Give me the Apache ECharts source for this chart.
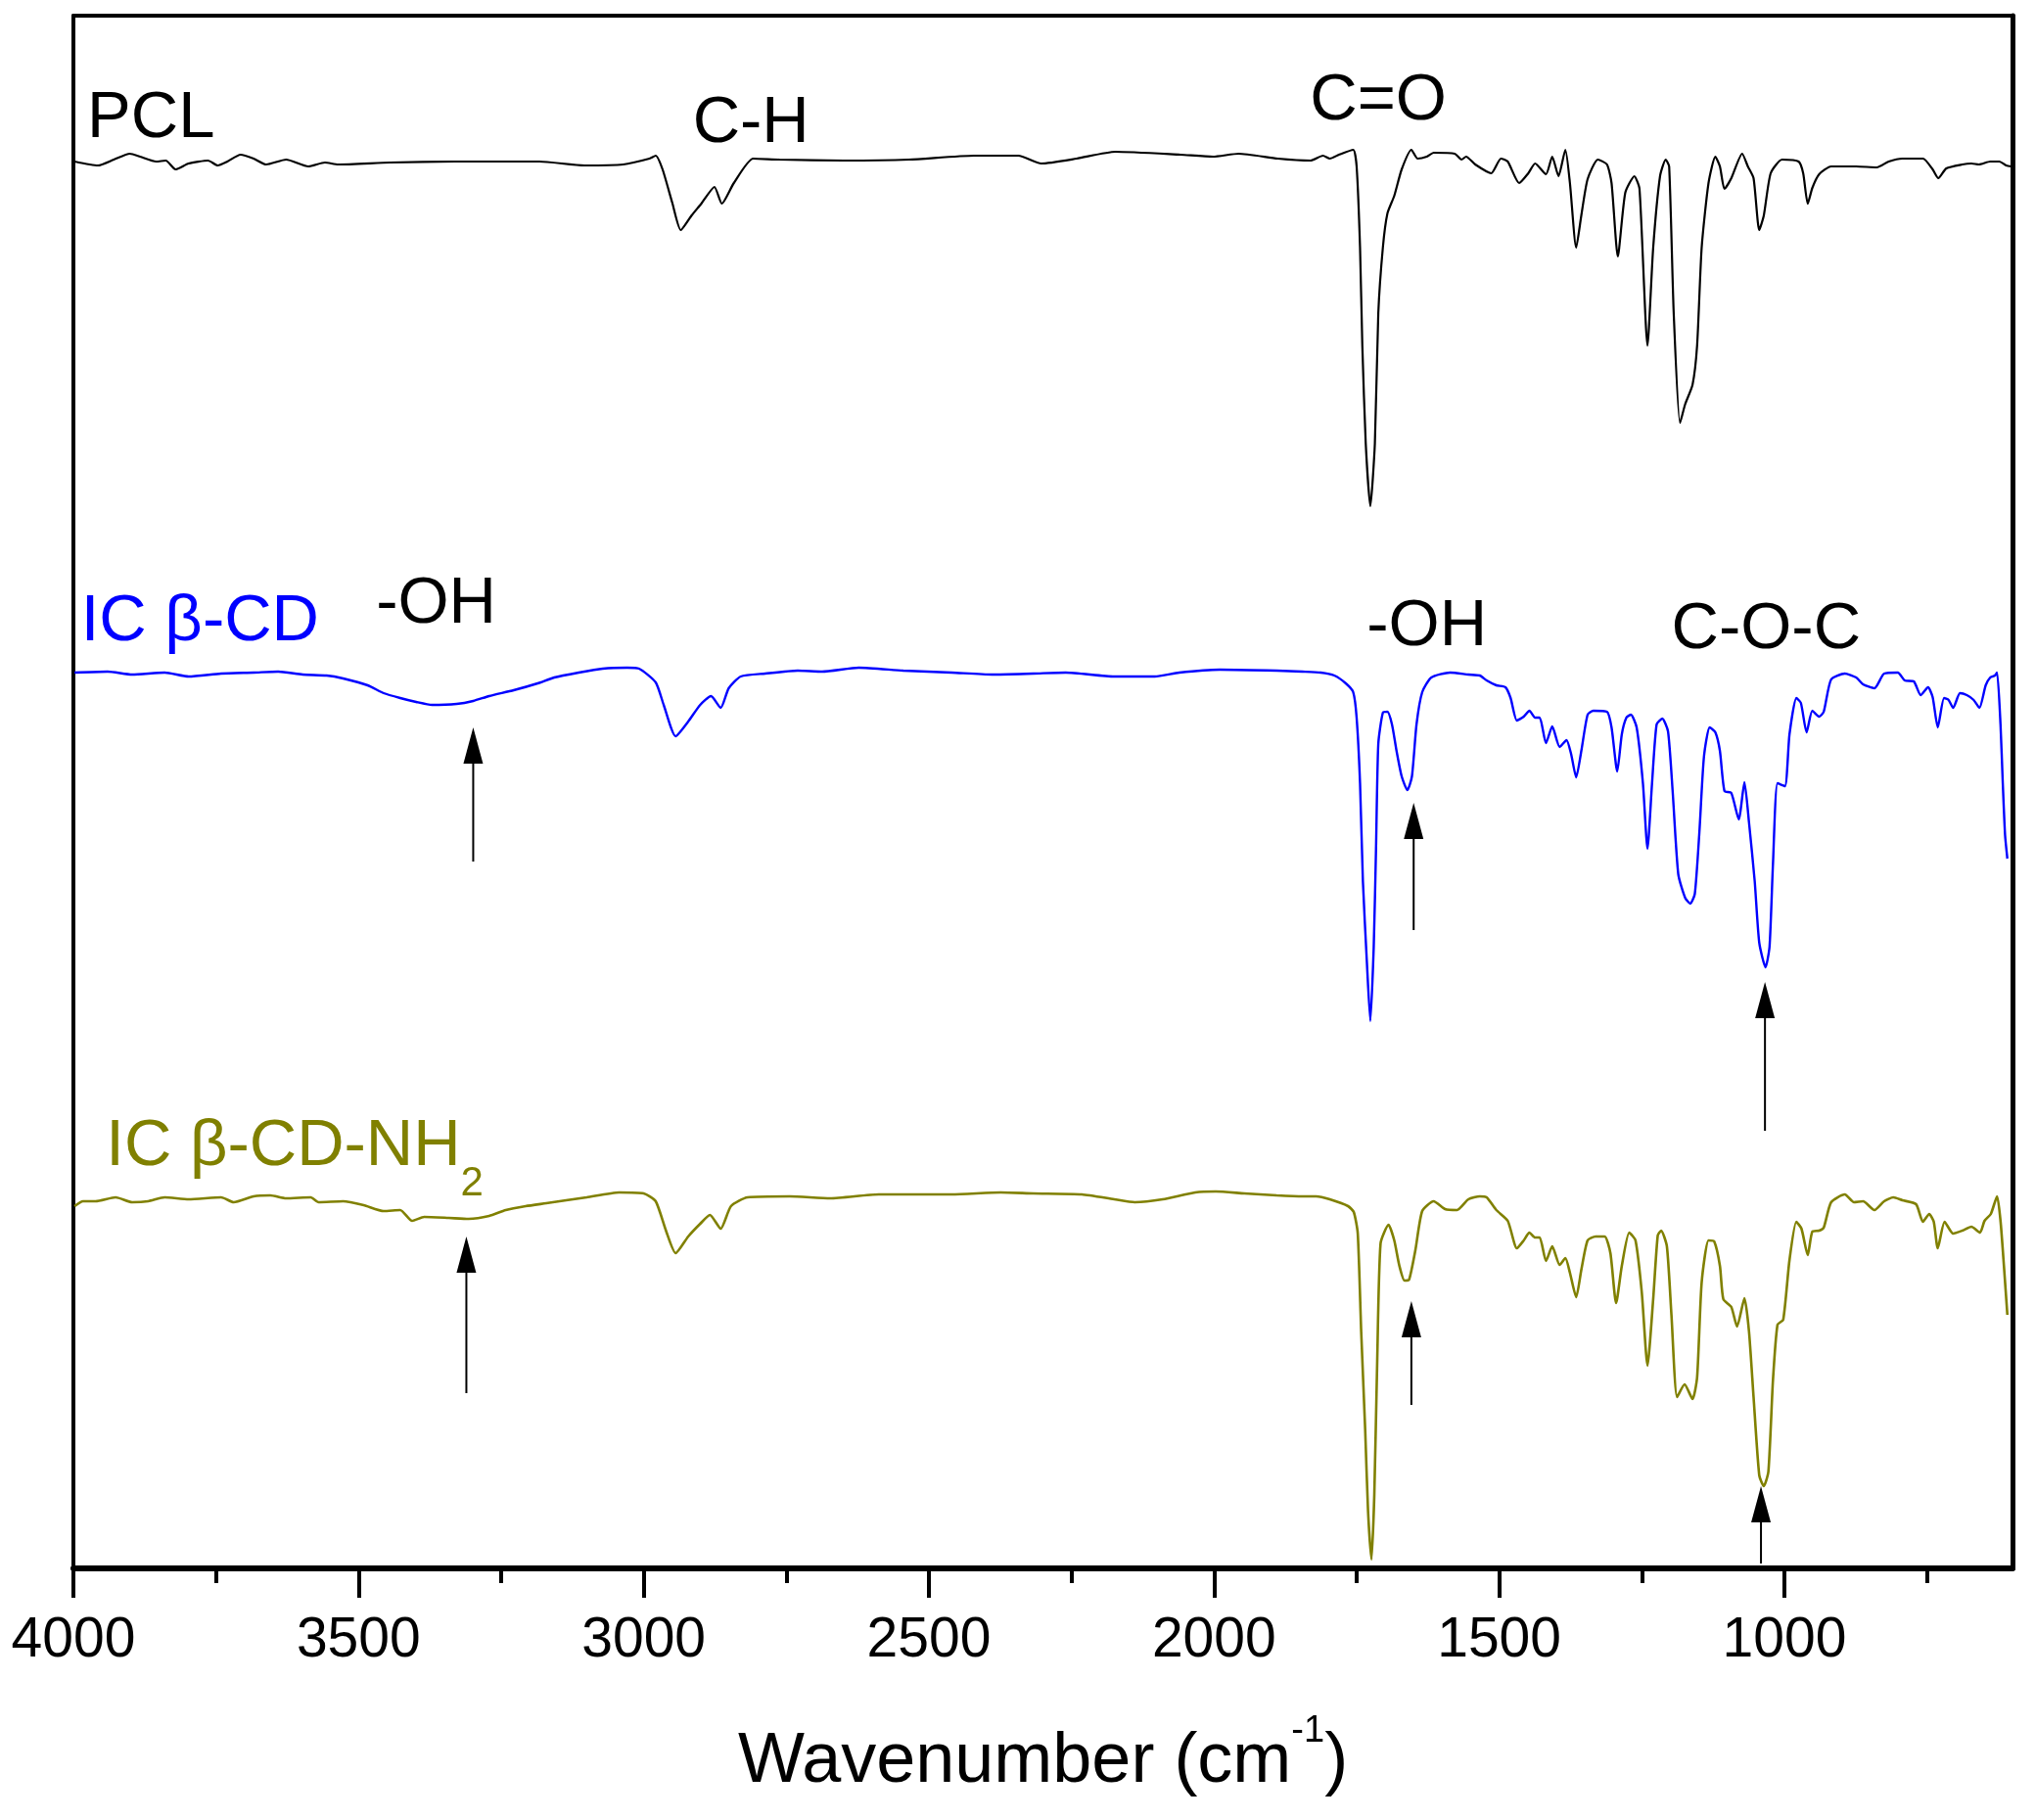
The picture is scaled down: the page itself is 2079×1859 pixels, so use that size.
<!DOCTYPE html>
<html>
<head>
<meta charset="utf-8">
<script src="https://cdn.jsdelivr.net/npm/echarts@6/dist/echarts.min.js"></script>
<style>
html,body{margin:0;padding:0;background:#fff;}
#chart{width:2079px;height:1859px;}
</style>
</head>
<body>
<div id="chart"></div>
<script>
// Wavenumber (cm-1) vs. transmittance (arbitrary units, curves offset)
const pclSpectrum = [[3998,1437],[3957,1433],[3929,1439],[3901,1445],[3883,1442],[3855,1437],[3838,1438],[3821,1429],[3798,1435],[3764,1438],[3747,1433],[3730,1437],[3707,1444],[3684,1440],[3662,1434],[3627,1439],[3588,1432],[3559,1436],[3536,1434],[3445,1436],[3331,1437],[3183,1437],[3104,1433],[3036,1434],[2990,1440],[2979,1443],[2967,1429],[2950,1395],[2935,1367],[2916,1382],[2899,1394],[2876,1411],[2863,1394],[2842,1415],[2808,1440],[2762,1439],[2649,1438],[2535,1439],[2421,1443],[2375,1443],[2343,1443],[2303,1435],[2241,1440],[2173,1447],[2059,1444],[2002,1442],[1957,1445],[1888,1440],[1831,1438],[1809,1443],[1797,1440],[1781,1444],[1756,1449],[1750,1432],[1744,1349],[1740,1249],[1734,1149],[1726,1085],[1718,1149],[1712,1282],[1704,1349],[1696,1384],[1684,1402],[1671,1429],[1654,1449],[1643,1440],[1627,1442],[1615,1446],[1578,1445],[1566,1439],[1558,1442],[1542,1434],[1514,1425],[1497,1440],[1485,1437],[1465,1415],[1449,1425],[1437,1435],[1418,1424],[1407,1442],[1396,1422],[1384,1449],[1376,1415],[1365,1349],[1356,1382],[1345,1419],[1327,1439],[1311,1434],[1303,1415],[1292,1340],[1279,1405],[1263,1422],[1254,1409],[1240,1249],[1230,1349],[1218,1422],[1208,1439],[1202,1432],[1194,1282],[1183,1170],[1174,1189],[1161,1209],[1153,1249],[1145,1349],[1133,1415],[1121,1442],[1113,1432],[1105,1409],[1093,1420],[1074,1445],[1064,1432],[1054,1420],[1044,1367],[1036,1382],[1024,1425],[1004,1439],[975,1437],[967,1425],[959,1394],[951,1410],[939,1424],[918,1432],[874,1432],[838,1431],[817,1437],[793,1440],[757,1440],[740,1429],[730,1420],[716,1430],[688,1434],[672,1435],[659,1434],[639,1437],[623,1437],[611,1433],[602,1432]];

const icBetaCdSpectrum = [[3998,915],[3940,916],[3897,913],[3840,915],[3798,911],[3741,914],[3684,915],[3641,916],[3598,913],[3556,912],[3527,909],[3484,902],[3456,894],[3427,889],[3399,885],[3371,882],[3328,883],[3299,886],[3271,891],[3228,897],[3186,904],[3157,910],[3114,915],[3072,919],[3029,920],[3008,919],[2979,905],[2965,882],[2944,850],[2922,865],[2901,882],[2882,891],[2865,879],[2851,899],[2830,911],[2787,914],[2730,917],[2687,916],[2623,920],[2545,917],[2460,915],[2389,913],[2317,914],[2260,915],[2175,911],[2104,911],[2061,915],[1990,918],[1890,917],[1845,916],[1813,915],[1789,912],[1769,904],[1756,895],[1750,869],[1744,802],[1739,702],[1732,619],[1726,559],[1720,635],[1716,735],[1712,842],[1704,874],[1696,875],[1688,862],[1680,835],[1671,809],[1661,795],[1653,809],[1645,862],[1635,895],[1619,910],[1586,915],[1554,913],[1534,912],[1522,907],[1505,902],[1489,900],[1480,889],[1469,866],[1457,870],[1447,876],[1437,869],[1429,869],[1418,843],[1407,860],[1394,839],[1382,846],[1374,832],[1365,808],[1356,835],[1345,872],[1335,876],[1311,875],[1303,859],[1293,814],[1285,852],[1277,869],[1269,872],[1259,859],[1248,802],[1240,735],[1232,802],[1224,862],[1214,868],[1204,855],[1196,795],[1186,709],[1174,685],[1165,679],[1157,689],[1149,752],[1141,829],[1131,859],[1121,854],[1113,835],[1105,794],[1093,792],[1080,765],[1070,803],[1062,762],[1052,702],[1044,639],[1033,614],[1026,635],[1020,719],[1012,802],[999,799],[991,852],[979,889],[971,884],[961,854],[951,876],[939,870],[931,875],[918,908],[894,914],[874,910],[862,903],[842,899],[825,914],[801,915],[789,907],[773,906],[761,892],[748,900],[740,890],[731,859],[720,889],[712,887],[704,879],[692,894],[680,892],[668,887],[658,879],[647,902],[639,910],[631,912],[627,915],[621,862],[617,802],[613,749],[609,725]];

const icBetaCdNh2Spectrum = [[3998,370],[3983,375],[3961,375],[3926,379],[3897,374],[3869,375],[3840,379],[3798,377],[3741,379],[3719,374],[3684,380],[3655,381],[3627,378],[3584,379],[3570,374],[3527,375],[3491,371],[3456,365],[3427,366],[3406,355],[3385,359],[3342,358],[3307,357],[3271,360],[3242,366],[3207,370],[3171,373],[3136,376],[3100,379],[3043,384],[3000,383],[2979,375],[2961,345],[2944,322],[2922,339],[2901,352],[2884,361],[2865,347],[2847,370],[2818,379],[2744,380],[2673,378],[2588,382],[2460,382],[2374,384],[2317,383],[2232,382],[2175,377],[2139,374],[2090,377],[2033,384],[1997,385],[1947,383],[1890,381],[1845,380],[1821,380],[1797,377],[1765,370],[1755,364],[1748,342],[1742,242],[1735,142],[1730,59],[1724,9],[1719,75],[1714,209],[1708,332],[1694,351],[1684,335],[1675,309],[1666,294],[1658,295],[1647,325],[1635,365],[1615,375],[1595,367],[1574,366],[1554,377],[1534,380],[1522,379],[1505,366],[1485,355],[1469,327],[1457,335],[1447,343],[1437,338],[1429,338],[1418,314],[1407,329],[1394,310],[1384,317],[1376,302],[1365,277],[1356,305],[1345,335],[1331,339],[1315,339],[1305,322],[1295,271],[1285,309],[1272,343],[1261,335],[1250,282],[1240,207],[1230,275],[1222,340],[1216,345],[1206,329],[1198,259],[1188,175],[1175,188],[1161,173],[1153,195],[1145,292],[1133,335],[1123,334],[1113,309],[1107,275],[1093,267],[1083,247],[1070,276],[1062,242],[1054,175],[1044,95],[1036,84],[1028,99],[1020,192],[1012,249],[1002,254],[991,315],[979,354],[970,347],[959,320],[951,344],[939,345],[931,348],[918,374],[894,382],[878,374],[862,375],[842,366],[825,375],[809,379],[793,376],[769,372],[757,354],[746,362],[738,354],[731,327],[719,354],[704,342],[688,345],[672,349],[657,343],[649,355],[638,362],[627,380],[621,355],[615,309],[609,259]];

const majorTicks = [4000, 3500, 3000, 2500, 2000, 1500, 1000];
const minorTicks = [3750, 3250, 2750, 2250, 1750, 1250, 750];

// annotations: text, wavenumber (centre), y value
const annoText = ['PCL', 'C-H', 'C=O', 'IC β-CD', '-OH', '-OH', 'C-O-C'];
const annoWn   = [3864, 2812, 1712, 3778, 3364, 1627, 1032];
const annoVal  = [1480, 1475, 1498, 966, 984, 961, 958];
const annoColor = ['#000000', '#000000', '#000000', '#0000ff', '#000000', '#000000', '#000000'];
// label of third curve with subscript (anchored at end of "NH")
const nh2LabelWn = 3321;
const nh2LabelVal = 430;
const nh2SubVal = 393;

// arrows: wavenumber, tip value, tail value
const arrowWn   = [3299, 1650, 1034, 3311, 1654, 1041];
const arrowTip  = [859, 782, 599, 339, 273, 84];
const arrowTail = [722, 652, 447, 179, 167, 5];

const FONT = '"Liberation Sans", Arial, Helvetica, sans-serif';
const chart = echarts.init(document.getElementById('chart'), null, {renderer: 'canvas'});

const annoData = annoText.map((t, i) => [annoWn[i], annoVal[i], i]);
const arrowData = arrowWn.map((w, i) => [w, arrowTip[i], arrowTail[i]]);

const option = {
  animation: false,
  backgroundColor: '#ffffff',
  grid: {left: 75, right: 23, top: 16, bottom: 257, containLabel: false},
  xAxis: [
    {
      type: 'value', position: 'bottom', inverse: true, min: 600, max: 4000,
      name: 'Wavenumber (cm{sup|-1})', nameLocation: 'middle', nameGap: 148,
      nameMoveOverlap: false,
      nameTextStyle: {
        fontFamily: FONT, fontSize: 72, color: '#000', lineHeight: 100,
        rich: {sup: {fontFamily: FONT, fontSize: 38, lineHeight: 38, verticalAlign: 'top', color: '#000'}}
      },
      axisLine: {show: true, onZero: false, lineStyle: {color: '#000', width: 6}},
      axisTick: {show: true, length: 30, lineStyle: {color: '#000', width: 4}, customValues: majorTicks},
      axisLabel: {show: true, margin: 46, fontFamily: FONT, fontSize: 57, color: '#000', customValues: majorTicks,
                  formatter: function (v) { return String(v); }},
      splitLine: {show: false}
    },
    {
      type: 'value', position: 'bottom', inverse: true, min: 600, max: 4000,
      axisLine: {show: false},
      axisTick: {show: true, length: 15, lineStyle: {color: '#000', width: 4}, customValues: minorTicks},
      axisLabel: {show: false},
      splitLine: {show: false}
    },
    {
      type: 'value', position: 'top', inverse: true, min: 600, max: 4000,
      axisLine: {show: true, onZero: false, lineStyle: {color: '#000', width: 4}},
      axisTick: {show: false}, axisLabel: {show: false}, splitLine: {show: false}
    }
  ],
  yAxis: [
    {
      type: 'value', position: 'left', min: 0, max: 1586,
      axisLine: {show: true, onZero: false, lineStyle: {color: '#000', width: 4}},
      axisTick: {show: false}, axisLabel: {show: false}, splitLine: {show: false}
    },
    {
      type: 'value', position: 'right', min: 0, max: 1586,
      axisLine: {show: true, onZero: false, lineStyle: {color: '#000', width: 5}},
      axisTick: {show: false}, axisLabel: {show: false}, splitLine: {show: false}
    }
  ],
  series: [
    {
      name: 'PCL', type: 'line', data: pclSpectrum, showSymbol: false, smooth: 0.2,
      lineStyle: {color: '#000000', width: 2.2}, silent: true
    },
    {
      name: 'IC β-CD', type: 'line', data: icBetaCdSpectrum, showSymbol: false, smooth: 0.2,
      lineStyle: {color: '#0000ff', width: 2.4}, silent: true
    },
    {
      name: 'IC β-CD-NH2', type: 'line', data: icBetaCdNh2Spectrum, showSymbol: false, smooth: 0.2,
      lineStyle: {color: '#808000', width: 2.6}, silent: true
    },
    {
      type: 'custom', silent: true, clip: false, data: arrowData,
      encode: {x: 0, y: 1},
      renderItem: function (params, api) {
        const w = api.value(0);
        const tip = api.coord([w, api.value(1)]);
        const tail = api.coord([w, api.value(2)]);
        return {
          type: 'group',
          children: [
            {type: 'line', shape: {x1: tip[0], y1: tip[1] + 30, x2: tail[0], y2: tail[1]},
             style: {stroke: '#000', lineWidth: 2}},
            {type: 'polygon', shape: {points: [[tip[0], tip[1]], [tip[0] - 10, tip[1] + 37], [tip[0] + 10, tip[1] + 37]]},
             style: {fill: '#000'}}
          ]
        };
      }
    },
    {
      type: 'custom', silent: true, clip: false, data: annoData,
      encode: {x: 0, y: 1},
      renderItem: function (params, api) {
        const p = api.coord([api.value(0), api.value(1)]);
        const i = api.value(2);
        return {
          type: 'text', x: p[0], y: p[1],
          style: {text: annoText[i], fill: annoColor[i], fontFamily: FONT, fontSize: 67,
                  align: 'center', verticalAlign: 'middle'}
        };
      }
    },
    {
      type: 'custom', silent: true, clip: false, data: [[nh2LabelWn, nh2LabelVal, nh2SubVal]],
      encode: {x: 0, y: 1},
      renderItem: function (params, api) {
        const p = api.coord([api.value(0), api.value(1)]);
        const s = api.coord([api.value(0), api.value(2)]);
        return {
          type: 'group',
          children: [
            {type: 'text', x: p[0], y: p[1],
             style: {text: 'IC β-CD-NH', fill: '#808000', fontFamily: FONT, fontSize: 67, align: 'right', verticalAlign: 'middle'}},
            {type: 'text', x: s[0], y: s[1],
             style: {text: '2', fill: '#808000', fontFamily: FONT, fontSize: 42, align: 'left', verticalAlign: 'middle'}}
          ]
        };
      }
    }
  ]
};
chart.setOption(option);
</script>
</body>
</html>
